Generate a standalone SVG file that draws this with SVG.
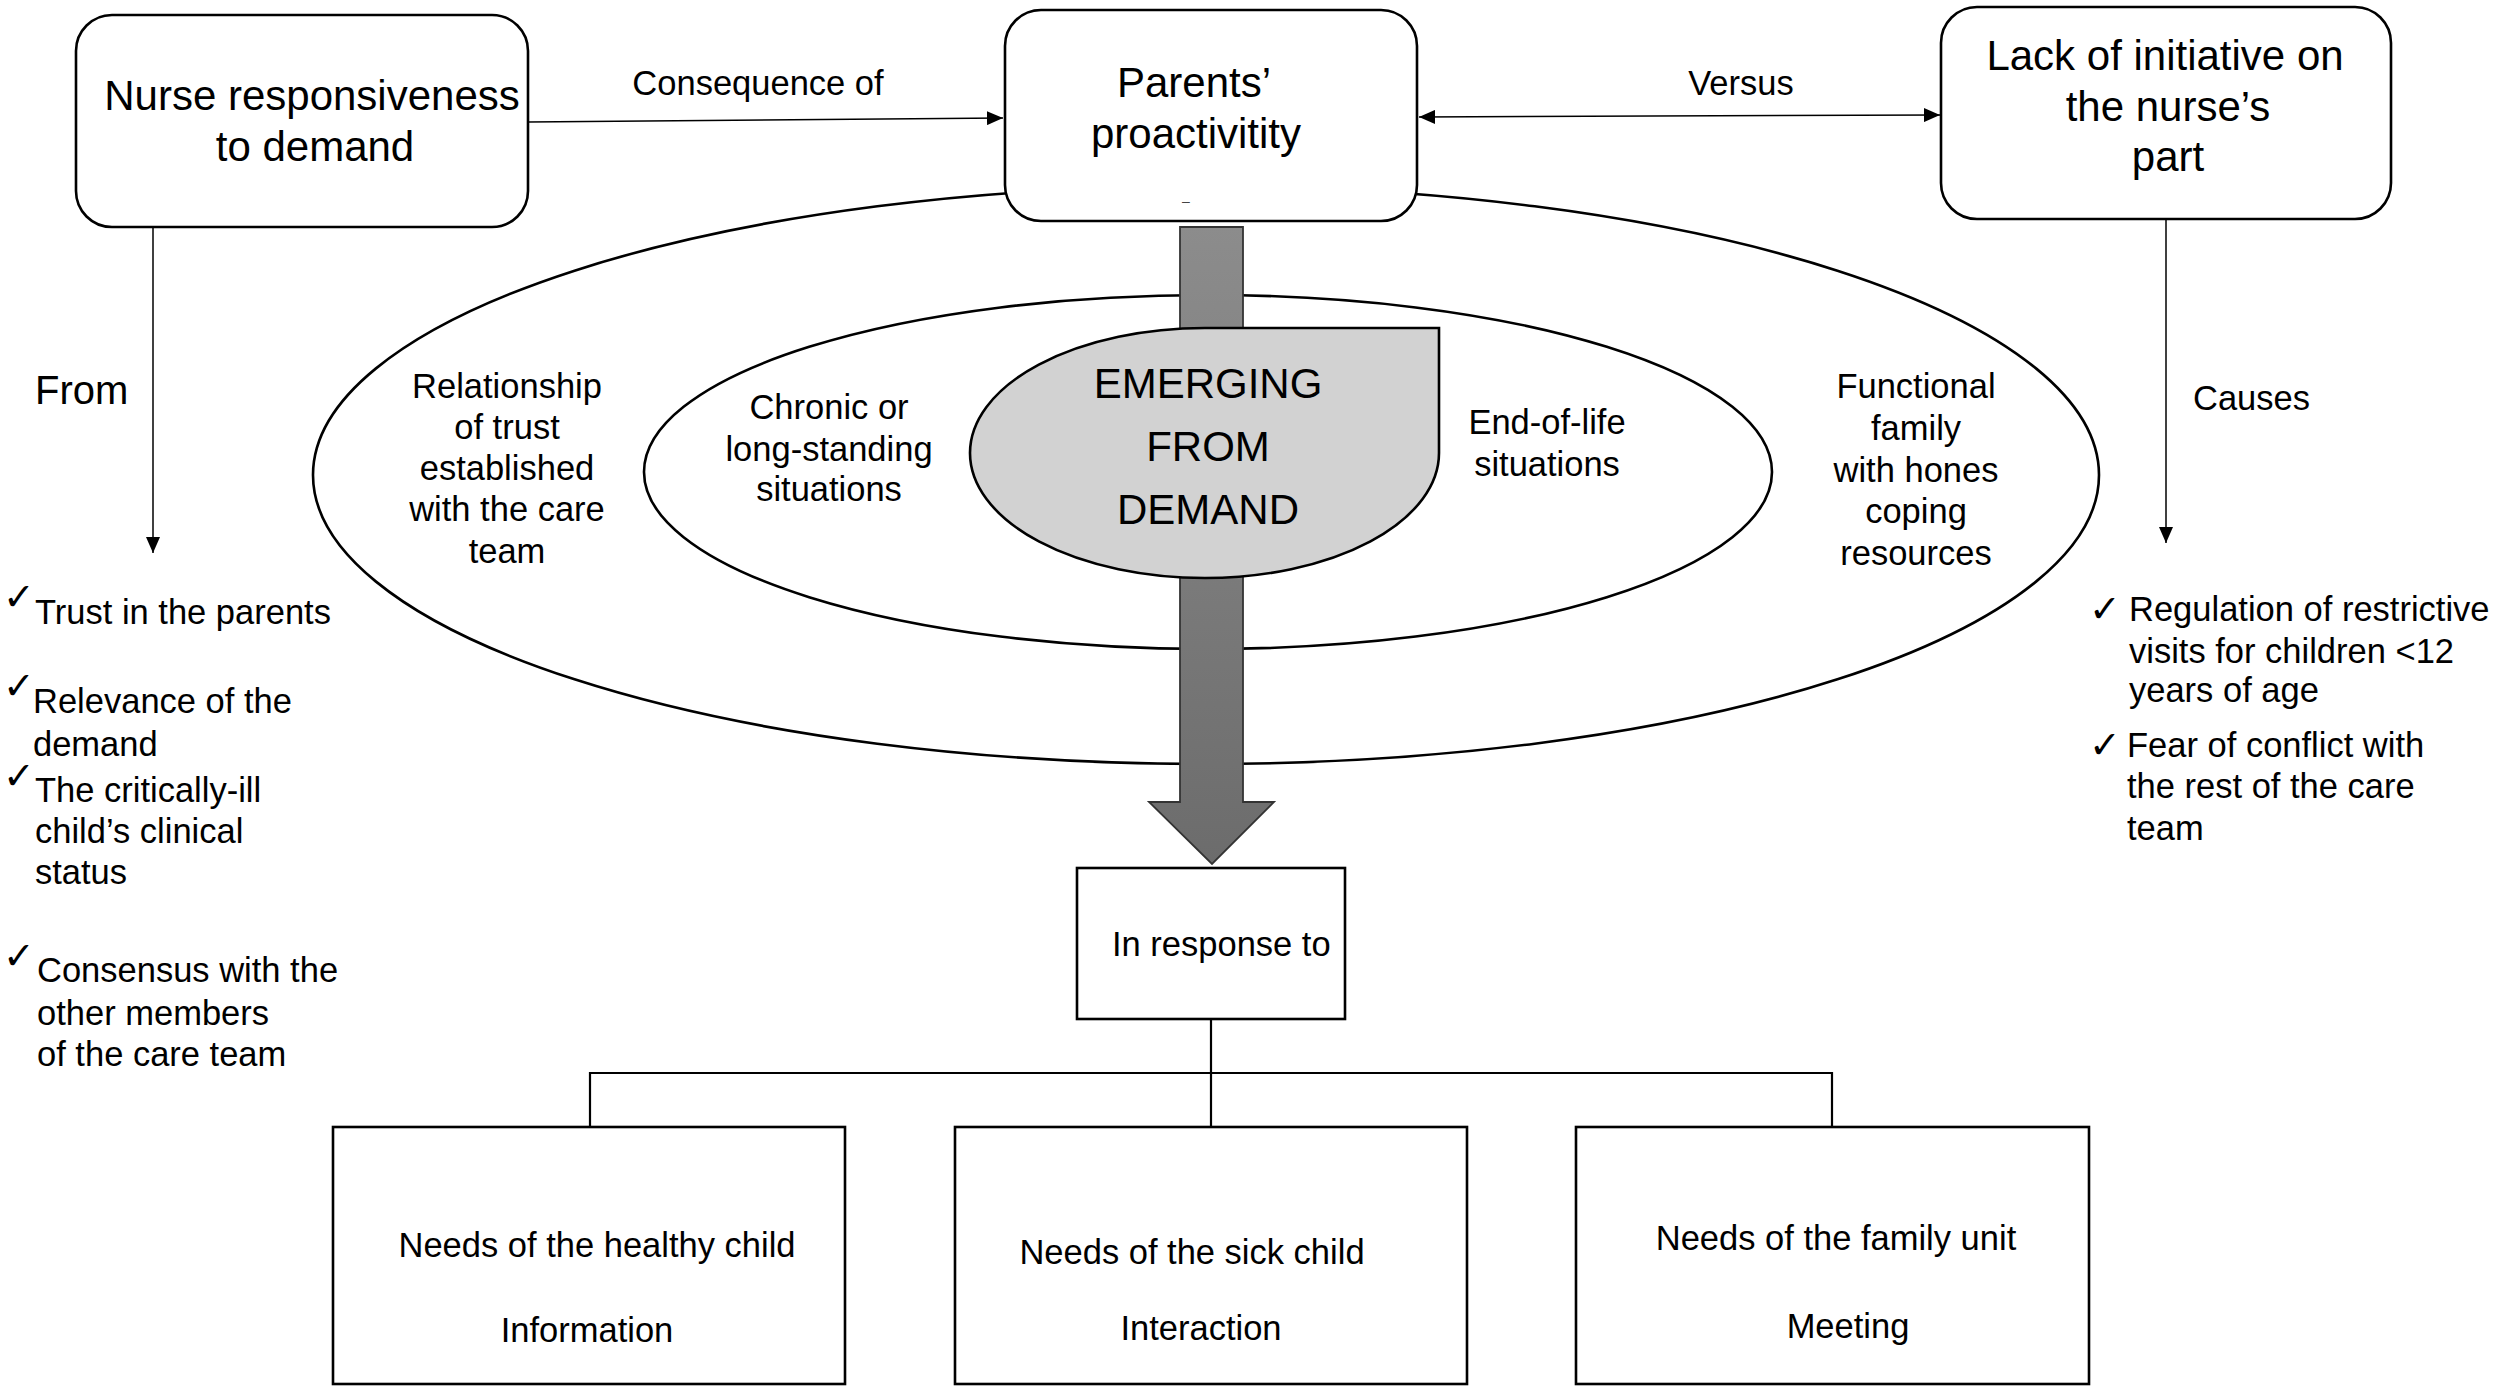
<svg xmlns="http://www.w3.org/2000/svg" width="2508" height="1390" viewBox="0 0 2508 1390">
<defs>
<style>
text{font-family:"Liberation Sans",Arial,sans-serif;fill:#000}
.big{font-size:42px}
.md{font-size:34.5px}
.mid{text-anchor:middle}
.box{fill:#fff;stroke:#000;stroke-width:2.6}
.ell{fill:none;stroke:#000;stroke-width:2.6}
.ln{fill:none;stroke:#000;stroke-width:1.5}
.tree{fill:none;stroke:#000;stroke-width:2.2}
.chk{font-family:"DejaVu Sans",sans-serif;font-size:38px}
</style>
<marker id="ah" markerUnits="userSpaceOnUse" markerWidth="16" markerHeight="14" viewBox="0 0 16 14" refX="16" refY="7" orient="auto-start-reverse">
<path d="M0,0 L16,7 L0,14 z" fill="#000"/>
</marker>
<linearGradient id="shaft" x1="0" y1="0" x2="0" y2="1">
<stop offset="0" stop-color="#8c8c8c"/>
<stop offset="1" stop-color="#6c6c6c"/>
</linearGradient>
</defs>
<rect width="2508" height="1390" fill="#fff"/>

<g id="rings">
<ellipse class="ell" cx="1206" cy="475" rx="893" ry="289"/>
<ellipse class="ell" cx="1208" cy="472" rx="564" ry="177"/>
</g>

<g id="connectors">
<line class="ln" x1="528" y1="122" x2="1003" y2="118" marker-end="url(#ah)"/>
<line class="ln" x1="1419" y1="117" x2="1940" y2="115" marker-start="url(#ah)" marker-end="url(#ah)"/>
<line class="ln" x1="153" y1="227" x2="153" y2="553" marker-end="url(#ah)"/>
<line class="ln" x1="2166" y1="219" x2="2166" y2="543" marker-end="url(#ah)"/>
<path class="tree" d="M1211,1019 V1127 M590,1127 V1073 H1832 V1127"/>
<path d="M1180,227 H1243 V802 H1274 L1212,864 L1149,802 H1180 Z" fill="url(#shaft)" stroke="#333" stroke-width="1.8"/>
</g>

<g id="nurse">
<rect class="box" x="76" y="15" width="452" height="212" rx="36" ry="36"/>
<text class="big mid" x="312" y="110">Nurse responsiveness</text>
<text class="big mid" x="315" y="161">to demand</text>
</g>

<g id="parents">
<rect class="box" x="1005" y="10" width="412" height="211" rx="36" ry="36"/>
<text class="big mid" x="1194" y="97">Parents’</text>
<text class="big mid" x="1196" y="148">proactivitity</text>
<text x="1186" y="206" style="font-size:14px;fill:#444" class="mid">–</text>
</g>

<g id="lack">
<rect class="box" x="1941" y="7" width="450" height="212" rx="36" ry="36"/>
<text class="big mid" x="2165" y="70">Lack of initiative on</text>
<text class="big mid" x="2168" y="121">the nurse’s</text>
<text class="big mid" x="2168" y="171">part</text>
</g>

<g id="labels">
<text class="md mid" x="758" y="95">Consequence of</text>
<text class="md mid" x="1741" y="95">Versus</text>
<text x="35" y="404" style="font-size:40px">From</text>
<text class="md" x="2193" y="410">Causes</text>
</g>

<g id="emerging">
<path d="M1205,328 H1439 V453 A234,125 0 0 1 1205,578 A235,125 0 0 1 970,453 A235,125 0 0 1 1205,328 Z" fill="#d2d2d2" stroke="#000" stroke-width="2.6"/>
<text class="big mid" x="1208" y="398">EMERGING</text>
<text class="big mid" x="1208" y="461">FROM</text>
<text class="big mid" x="1208" y="524">DEMAND</text>
</g>

<g id="trust">
<text class="md mid" x="507" y="398">Relationship</text>
<text class="md mid" x="507" y="439">of trust</text>
<text class="md mid" x="507" y="480">established</text>
<text class="md mid" x="507" y="521">with the care</text>
<text class="md mid" x="507" y="563">team</text>
</g>

<g id="chronic">
<text class="md mid" x="829" y="419">Chronic or</text>
<text class="md mid" x="829" y="461">long-standing</text>
<text class="md mid" x="829" y="501">situations</text>
</g>

<g id="endoflife">
<text class="md mid" x="1547" y="434">End-of-life</text>
<text class="md mid" x="1547" y="476">situations</text>
</g>

<g id="functional">
<text class="md mid" x="1916" y="398">Functional</text>
<text class="md mid" x="1916" y="440">family</text>
<text class="md mid" x="1916" y="482">with hones</text>
<text class="md mid" x="1916" y="523">coping</text>
<text class="md mid" x="1916" y="565">resources</text>
</g>

<g id="from-list">
<text class="chk" x="3" y="610">✓</text>
<text class="md" x="35" y="624">Trust in the parents</text>
<text class="chk" x="3" y="699">✓</text>
<text class="md" x="33" y="713">Relevance of the</text>
<text class="md" x="33" y="756">demand</text>
<text class="chk" x="3" y="789">✓</text>
<text class="md" x="35" y="802">The critically-ill</text>
<text class="md" x="35" y="843">child’s clinical</text>
<text class="md" x="35" y="884">status</text>
<text class="chk" x="3" y="969">✓</text>
<text class="md" x="37" y="982">Consensus with the</text>
<text class="md" x="37" y="1025">other members</text>
<text class="md" x="37" y="1066">of the care team</text>
</g>

<g id="causes-list">
<text class="chk" x="2089" y="622">✓</text>
<text class="md" x="2129" y="621">Regulation of restrictive</text>
<text class="md" x="2129" y="663">visits for children &lt;12</text>
<text class="md" x="2129" y="702">years of age</text>
<text class="chk" x="2089" y="758">✓</text>
<text class="md" x="2127" y="757">Fear of conflict with</text>
<text class="md" x="2127" y="798">the rest of the care</text>
<text class="md" x="2127" y="840">team</text>
</g>

<g id="response">
<rect class="box" x="1077" y="868" width="268" height="151"/>
<text class="md" x="1112" y="956">In response to</text>
</g>

<g id="healthy">
<rect class="box" x="333" y="1127" width="512" height="257"/>
<text class="md mid" x="597" y="1257">Needs of the healthy child</text>
<text class="md mid" x="587" y="1342">Information</text>
</g>

<g id="sick">
<rect class="box" x="955" y="1127" width="512" height="257"/>
<text class="md mid" x="1192" y="1264">Needs of the sick child</text>
<text class="md mid" x="1201" y="1340">Interaction</text>
</g>

<g id="family">
<rect class="box" x="1576" y="1127" width="513" height="257"/>
<text class="md mid" x="1836" y="1250">Needs of the family unit</text>
<text class="md mid" x="1848" y="1338">Meeting</text>
</g>
</svg>
